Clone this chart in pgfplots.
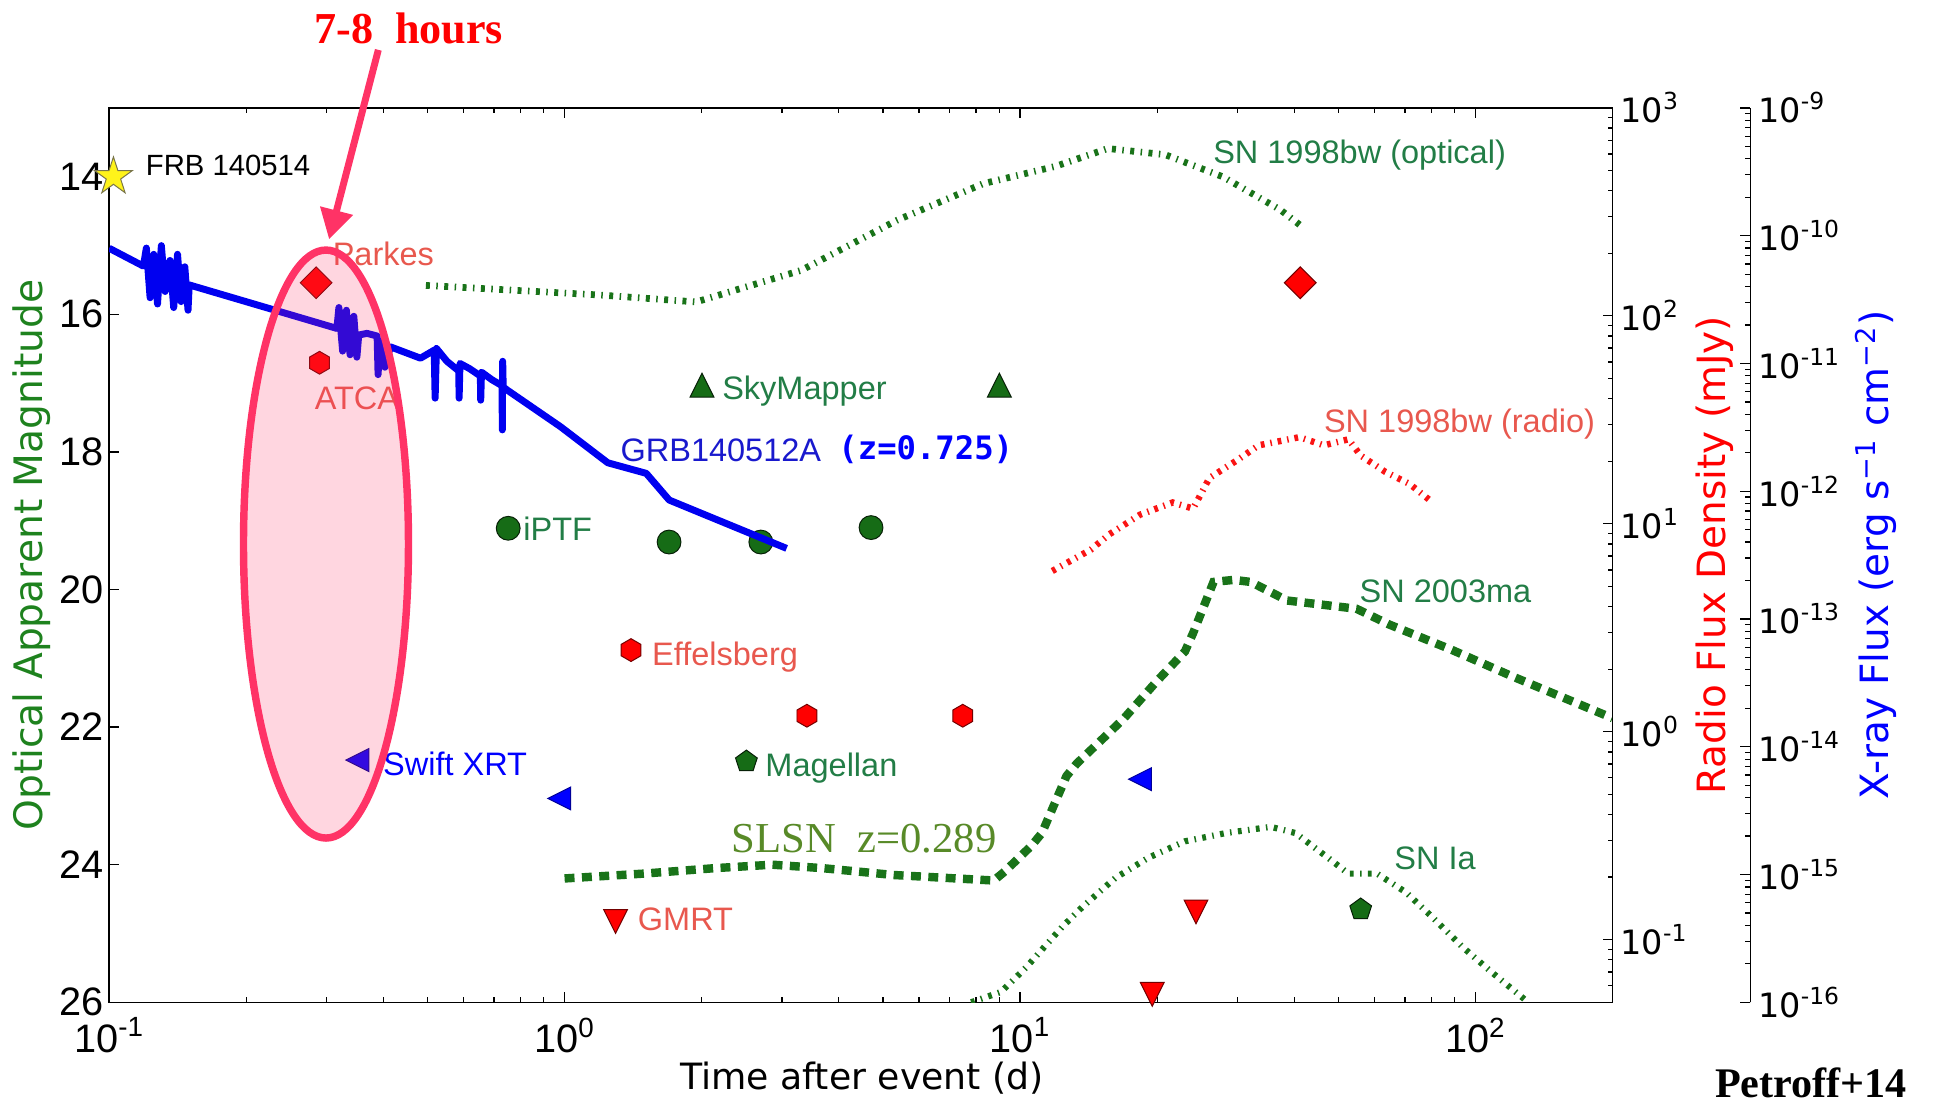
\documentclass[border=0pt]{standalone}
\usepackage{pgfplots}
\pgfplotsset{compat=1.18}
\usepackage{fontspec}
\setmainfont{Liberation Sans}
\newfontfamily\dejavu{DejaVu Sans}
\newfontfamily\libserif{Liberation Serif}
\newfontfamily\dmono{DejaVu Sans Mono}
\usetikzlibrary{arrows.meta}
\definecolor{optgreen}{RGB}{30,130,30}
\definecolor{mkgreen}{RGB}{22,108,22}
\definecolor{lngreen}{RGB}{25,115,25}
\definecolor{txtgreen}{RGB}{34,125,70}
\definecolor{salmon}{RGB}{232,88,78}
\definecolor{olive}{RGB}{88,138,40}
\definecolor{pinkred}{RGB}{255,51,102}
\definecolor{grbblue}{RGB}{0,0,240}
\definecolor{txtblue}{RGB}{25,25,205}
\definecolor{radred}{RGB}{250,20,20}

\pgfdeclareplotmark{fstar}{%
\pgfpathmoveto{\pgfpointpolar{90}{\pgfplotmarksize}}%
\pgfpathlineto{\pgfpointpolar{126}{0.382\pgfplotmarksize}}%
\pgfpathlineto{\pgfpointpolar{162}{\pgfplotmarksize}}%
\pgfpathlineto{\pgfpointpolar{198}{0.382\pgfplotmarksize}}%
\pgfpathlineto{\pgfpointpolar{234}{\pgfplotmarksize}}%
\pgfpathlineto{\pgfpointpolar{270}{0.382\pgfplotmarksize}}%
\pgfpathlineto{\pgfpointpolar{306}{\pgfplotmarksize}}%
\pgfpathlineto{\pgfpointpolar{342}{0.382\pgfplotmarksize}}%
\pgfpathlineto{\pgfpointpolar{18}{\pgfplotmarksize}}%
\pgfpathlineto{\pgfpointpolar{54}{0.382\pgfplotmarksize}}%
\pgfpathclose\pgfusepathqfillstroke}
\pgfdeclareplotmark{hexa}{%
\pgfpathmoveto{\pgfpointpolar{90}{\pgfplotmarksize}}%
\pgfpathlineto{\pgfpointpolar{150}{\pgfplotmarksize}}%
\pgfpathlineto{\pgfpointpolar{210}{\pgfplotmarksize}}%
\pgfpathlineto{\pgfpointpolar{270}{\pgfplotmarksize}}%
\pgfpathlineto{\pgfpointpolar{330}{\pgfplotmarksize}}%
\pgfpathlineto{\pgfpointpolar{30}{\pgfplotmarksize}}%
\pgfpathclose\pgfusepathqfillstroke}
\pgfdeclareplotmark{tup}{%
\pgfpathmoveto{\pgfqpoint{0pt}{\pgfplotmarksize}}%
\pgfpathlineto{\pgfqpoint{-\pgfplotmarksize}{-\pgfplotmarksize}}%
\pgfpathlineto{\pgfqpoint{\pgfplotmarksize}{-\pgfplotmarksize}}%
\pgfpathclose\pgfusepathqfillstroke}
\pgfdeclareplotmark{tdown}{%
\pgfpathmoveto{\pgfqpoint{0pt}{-\pgfplotmarksize}}%
\pgfpathlineto{\pgfqpoint{-\pgfplotmarksize}{\pgfplotmarksize}}%
\pgfpathlineto{\pgfqpoint{\pgfplotmarksize}{\pgfplotmarksize}}%
\pgfpathclose\pgfusepathqfillstroke}
\pgfdeclareplotmark{tleft}{%
\pgfpathmoveto{\pgfqpoint{-\pgfplotmarksize}{0pt}}%
\pgfpathlineto{\pgfqpoint{\pgfplotmarksize}{\pgfplotmarksize}}%
\pgfpathlineto{\pgfqpoint{\pgfplotmarksize}{-\pgfplotmarksize}}%
\pgfpathclose\pgfusepathqfillstroke}
\pgfdeclareplotmark{diam}{%
\pgfpathmoveto{\pgfqpoint{0pt}{\pgfplotmarksize}}%
\pgfpathlineto{\pgfqpoint{\pgfplotmarksize}{0pt}}%
\pgfpathlineto{\pgfqpoint{0pt}{-\pgfplotmarksize}}%
\pgfpathlineto{\pgfqpoint{-\pgfplotmarksize}{0pt}}%
\pgfpathclose\pgfusepathqfillstroke}

\pgfplotsset{every axis/.append style={
    axis line style={black, line width=0.6pt},
    major tick length=4pt, minor tick length=2pt,
    tick style={black, line width=0.5pt}}}
\newcommand\lab{\fontsize{13.1}{15}\selectfont}

\begin{document}
\begin{tikzpicture}
\useasboundingbox (-44pt,-40.5pt) rectangle (740pt,404pt);

% ---------- main optical axis ----------
\begin{axis}[at={(0pt,0pt)}, anchor=south west, scale only axis,
  width=606pt, height=360.5pt, xmode=log, log basis x=10,
  xmin=0.1, xmax=200,
  ymin=13, ymax=26, y dir=reverse,
  ytick={14,16,18,20,22,24,26}, ytick pos=left,
  clip mode=global,
  tick label style={font=\fontsize{16}{19}\selectfont},
  yticklabel={\pgfmathprintnumber[assume math mode=true]{\tick}},
  xticklabel={10\textsuperscript{\pgfmathparse{int(round(\tick))}\pgfmathresult}},
  yticklabel style={inner sep=2pt},
  xticklabel style={inner sep=2pt, yshift=-4pt}]
% SN 1998bw (optical)
\addplot[lngreen, line width=2.7pt, dash pattern=on 1.6pt off 2.6pt on 0.6pt off 2.6pt] coordinates {
(0.496,15.58) (1.20,15.72) (1.945,15.82) (3.31,15.36) (5.38,14.63) (8.31,14.10)
(11.95,13.85) (15.59,13.59) (20.84,13.68) (27.86,14.00) (37.27,14.48) (42.07,14.75)};
% SN 2003ma (SLSN z=0.289)
\addplot[lngreen, line width=3.4pt, dash pattern=on 4pt off 3pt] coordinates {
(1.0,24.20) (1.49,24.13) (2.14,24.05) (2.86,24.00) (3.68,24.05) (5.28,24.15)
(8.76,24.23) (9.25,24.10) (10.61,23.72) (11.17,23.54) (12.65,22.71) (13.32,22.53)
(16.88,21.88) (19.92,21.34) (23.02,20.90) (24.0,20.63) (26.6,19.89) (29.5,19.86)
(32.1,19.89) (38.6,20.16) (54.8,20.28) (64.7,20.51) (88.2,20.87) (120.2,21.26) (200,21.87)};
% SN Ia
\addplot[lngreen, line width=2.5pt, dash pattern=on 1.5pt off 2.6pt on 0.6pt off 2.6pt] coordinates {
(7.81,26.0) (9.08,25.85) (10.29,25.50) (12.39,24.90) (13.73,24.61) (16.21,24.19)
(19.12,23.90) (23.02,23.66) (28.31,23.54) (35.53,23.45) (40.24,23.54) (47.46,23.90)
(52.6,24.13) (60.8,24.13) (70.3,24.40) (79.5,24.73) (93.8,25.20) (108.4,25.56) (130.5,26.0)};
% FRB 140514
\addplot[only marks, mark=fstar, mark size=8pt,
  mark options={fill=yellow!90!white, draw=black!60!yellow, line width=0.4pt}]
  coordinates {(0.1022,14.0)};
% SkyMapper
\addplot[only marks, mark=tup, mark size=4.8pt,
  mark options={fill=mkgreen, draw=black!70!mkgreen, line width=0.4pt}]
  coordinates {(2.003,17.03) (9.006,17.03)};
% iPTF
\addplot[only marks, mark=*, mark size=4.8pt,
  mark options={fill=mkgreen, draw=black!70!mkgreen, line width=0.4pt}]
  coordinates {(0.752,19.11) (1.696,19.31) (2.697,19.31) (4.708,19.10)};
% Magellan
\addplot[only marks, mark=pentagon*, mark size=4.6pt,
  mark options={fill=mkgreen, draw=black!70!mkgreen, line width=0.4pt}]
  coordinates {(2.507,22.50) (55.97,24.65)};
\end{axis}

% ---------- X-ray data ----------
\begin{axis}[at={(0pt,0pt)}, anchor=south west, scale only axis,
  width=606pt, height=360.5pt, xmode=log, log basis x=10,
  xmin=0.1, xmax=200, hide axis,
  ymode=log, log basis y=10, ymin=1e-16, ymax=1e-9]
\addplot[grbblue, line width=2.8pt, line join=round] coordinates {
(0.1,7.98e-11) (0.1189,5.78e-11)
(0.1207,8.0e-11) (0.1230,3.27e-11) (0.1253,7.15e-11) (0.1277,2.92e-11)
(0.1302,8.36e-11) (0.1327,3.66e-11) (0.1360,6.40e-11) (0.1386,2.74e-11)
(0.1413,7.15e-11) (0.1439,3.05e-11) (0.1466,5.71e-11) (0.1490,2.61e-11)
(0.1499,4.12e-11)
(0.3163,1.88e-11)
(0.3195,2.74e-11) (0.3256,1.25e-11) (0.3318,2.61e-11) (0.3381,1.17e-11)
(0.3445,2.34e-11) (0.3499,1.12e-11) (0.3532,1.67e-11)
(0.3683,1.72e-11) (0.3876,1.64e-11) (0.3895,8.18e-12) (0.3932,1.50e-11)
(0.4031,9.35e-12) (0.4144,1.35e-11)
(0.4826,1.10e-11) (0.5172,1.27e-11) (0.5197,5.35e-12) (0.5231,1.31e-11)
(0.5516,1.04e-11) (0.5856,8.75e-12) (0.5867,5.35e-12) (0.5893,1.0e-11)
(0.6176,9.14e-12) (0.6532,7.99e-12) (0.6544,5.16e-12) (0.6570,8.55e-12)
(0.6918,7.48e-12) (0.7290,6.69e-12) (0.7300,3.02e-12) (0.7313,1.04e-11)
(0.7332,6.55e-12) (0.7482,6.19e-12)
(0.9795,3.20e-12) (1.244,1.67e-12) (1.511,1.38e-12) (1.697,8.53e-13) (3.073,3.57e-13)};
% Swift XRT
\addplot[only marks, mark=tleft, mark size=4.6pt,
  mark options={fill=blue, draw=blue!60!black, line width=0.4pt}]
  coordinates {(0.3508,7.87e-15) (0.9734,3.94e-15) (18.34,5.58e-15)};
\end{axis}

% ---------- radio axis ----------
\begin{axis}[at={(0pt,0pt)}, anchor=south west, scale only axis,
  width=606pt, height=360.5pt, xmode=log, log basis x=10,
  xmin=0.1, xmax=200, hide x axis, axis y line*=right,
  ymode=log, log basis y=10, ymin=0.05, ymax=1000,
  tick label style={font=\dejavu\fontsize{13.5}{16}\selectfont},
  yticklabel={10\textsuperscript{\pgfmathparse{int(round(\tick))}\pgfmathresult}},
  yticklabel style={inner sep=3pt}]
% SN 1998bw (radio)
\addplot[radred, line width=2.6pt, dash pattern=on 1.5pt off 2.4pt on 0.6pt off 2.4pt] coordinates {
(11.77,5.93) (14.31,7.52) (15.70,8.90) (18.34,11.06) (21.63,12.66) (23.99,11.83)
(26.05,16.61) (30.10,20.35) (33.39,23.83) (41.06,26.10) (46.45,23.83) (52.60,25.49)
(55.98,21.29) (63.36,17.78) (71.74,15.52) (79.51,12.95)};
% Parkes
\addplot[only marks, mark=diam, mark size=6.4pt,
  mark options={fill=red, draw=red!45!black, line width=0.4pt}]
  coordinates {(0.2848,144.3) (41.23,144.3)};
% ATCA, Effelsberg
\addplot[only marks, mark=hexa, mark size=4.6pt,
  mark options={fill=red, draw=red!45!black, line width=0.4pt}]
  coordinates {(0.2897,59.5) (1.399,2.47) (3.404,1.194) (7.486,1.194)};
% GMRT
\addplot[only marks, mark=tdown, mark size=4.8pt,
  mark options={fill=red, draw=red!45!black, line width=0.4pt}]
  coordinates {(1.294,0.1224) (24.34,0.1360) (19.51,0.0546)};
\end{axis}

% ---------- X-ray spine ----------
\begin{axis}[at={(660.5pt,0pt)}, anchor=south west, scale only axis,
  width=1pt, height=360.5pt, hide x axis, axis y line*=right,
  xmin=0, xmax=1, ymode=log, log basis y=10, ymin=1e-16, ymax=1e-9,
  tick label style={font=\dejavu\fontsize{13.5}{16}\selectfont},
  yticklabel={10\textsuperscript{\pgfmathparse{int(round(\tick))}\pgfmathresult}},
  yticklabel style={inner sep=3pt}]
\addplot[draw=none] coordinates {(0.5,1e-12)};
\end{axis}

% ---------- axis titles ----------
\node[rotate=90, text=optgreen, font=\dejavu\fontsize{15.8}{18}\selectfont] at (-31.2pt,180.25pt) {Optical Apparent Magnitude};
\node[font=\dejavu\fontsize{14.6}{17}\selectfont] at (303.5pt,-30.75pt) {Time after event (d)};
\node[rotate=90, text=red, font=\dejavu\fontsize{15.7}{18}\selectfont] at (647pt,180.25pt) {Radio Flux Density (mJy)};
\node[rotate=90, text=blue, font=\dejavu\fontsize{15.7}{18}\selectfont] at (712pt,180.25pt) {X-ray Flux (erg s\textsuperscript{\symbol{"2212}1} cm\textsuperscript{\symbol{"2212}2})};

% ---------- annotations ----------
\begin{scope}[every node/.style={anchor=base west, inner sep=0pt}]
\node[font=\fontsize{11.8}{14}\selectfont] at (14.6pt,333.45pt) {FRB 140514};
\node[text=salmon, font=\lab] at (89.95pt,296.8pt) {Parkes};
\node[text=salmon, font=\lab] at (82.7pt,238.75pt) {ATCA};
\node[text=txtgreen, font=\lab] at (246.95pt,242.8pt) {SkyMapper};
\node[text=txtblue, font=\lab] at (205.95pt,217.9pt) {GRB140512A};
\node[text=blue, font=\dmono\bfseries\fontsize{13}{15}\selectfont] at (293.75pt,218.6pt) {(z=0.725)};
\node[text=txtgreen, font=\lab] at (166.8pt,185.95pt) {iPTF};
\node[text=salmon, font=\lab] at (218.7pt,135.55pt) {Effelsberg};
\node[text=txtgreen, font=\lab] at (264.35pt,90.95pt) {Magellan};
\node[text=blue, font=\lab] at (110.25pt,91.55pt) {Swift XRT};
\node[text=salmon, font=\lab] at (212.95pt,28.9pt) {GMRT};
\node[text=olive, font=\libserif\fontsize{17.2}{20}\selectfont] at (250.8pt,60.3pt) {SLSN\ \ z=0.289};
\node[text=txtgreen, font=\lab] at (444.85pt,337.9pt) {SN 1998bw (optical)};
\node[text=salmon, font=\lab] at (489.5pt,229.8pt) {SN 1998bw (radio)};
\node[text=txtgreen, font=\lab] at (503.85pt,161.2pt) {SN 2003ma};
\node[text=txtgreen, font=\lab] at (517.85pt,53.4pt) {SN Ia};
\end{scope}

% ---------- highlight ----------
\fill[pinkred, fill opacity=0.2] (87.4pt,184.7pt) ellipse [x radius=33.25pt, y radius=118.5pt];
\draw[pinkred, line width=3pt] (87.4pt,184.7pt) ellipse [x radius=33.25pt, y radius=118.5pt];
\draw[pinkred, line width=2.8pt, -{Triangle[length=12pt,width=13pt]}] (108.5pt,383.9pt) -- (88.65pt,307.5pt);
\node[text=red, font=\libserif\bfseries\fontsize{17.8}{20}\selectfont] at (120.75pt,392.5pt) {7-8\ \ hours};
\node[font=\libserif\bfseries\fontsize{17}{20}\selectfont] at (686pt,-32.5pt) {Petroff+14};
\end{tikzpicture}
\end{document}
